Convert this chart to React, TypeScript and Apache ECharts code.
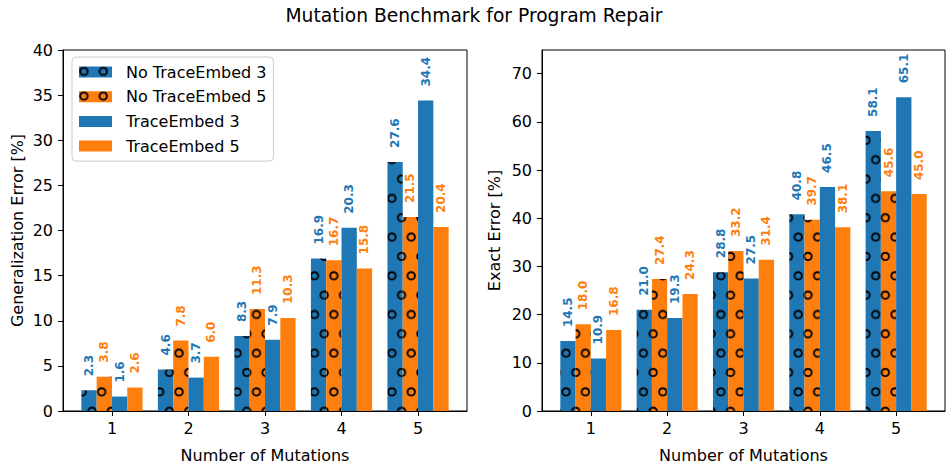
import React, { useEffect, useRef } from 'react';
import * as echarts from 'echarts';

const categories = [1, 2, 3, 4, 5];
const seriesNames = ['No TraceEmbed 3', 'No TraceEmbed 5', 'TraceEmbed 3', 'TraceEmbed 5'];

const genNoTE3 = [2.3, 4.6, 8.3, 16.9, 27.6];
const genNoTE5 = [3.8, 7.8, 11.3, 16.7, 21.5];
const genTE3 = [1.6, 3.7, 7.9, 20.3, 34.4];
const genTE5 = [2.6, 6.0, 10.3, 15.8, 20.4];

const exactNoTE3 = [14.5, 21.0, 28.8, 40.8, 58.1];
const exactNoTE5 = [18.0, 27.4, 33.2, 39.7, 45.6];
const exactTE3 = [10.9, 19.3, 27.5, 46.5, 65.1];
const exactTE5 = [16.8, 24.3, 31.4, 38.1, 45.0];

const xTicks = [1, 2, 3, 4, 5];
const exactYTicks = [0, 10, 20, 30, 40, 50, 60, 70];

const BLUE = '#1f77b4';
const ORANGE = '#ff7f0e';
const FONT = 'DejaVu Sans';

const TW = 19.35;
const TH = 38.7;
function hatch(bg: string) {
  const svg =
    `<svg xmlns="http://www.w3.org/2000/svg" width="${TW}" height="${TH}" viewBox="0 0 ${TW} ${TH}">` +
    `<rect x="0" y="0" width="${TW}" height="${TH}" fill="${bg}"/>` +
    `<circle cx="4.9" cy="4.9" r="3.7" fill="none" stroke="#000" stroke-width="1.9"/>` +
    `<circle cx="14.575" cy="24.25" r="3.7" fill="none" stroke="#000" stroke-width="1.9"/>` +
    `</svg>`;
  return {
    image: 'data:image/svg+xml;charset=utf-8,' + encodeURIComponent(svg),
    repeat: 'repeat',
    imageWidth: TW,
    imageHeight: TH,
    x: -1.3,
    y: 33 - TH,
  };
}

const offsets = [-0.3, -0.1, 0.1, 0.3];

export default function App() {
  const ref = useRef<HTMLDivElement>(null);
  useEffect(() => {
    document.body.style.margin = '0';
    if (!ref.current) return;
    const chart = echarts.init(ref.current, undefined, { renderer: 'svg' });

    const colors = [hatch(BLUE), hatch(ORANGE), BLUE, ORANGE];
    const labelColors = [BLUE, ORANGE, BLUE, ORANGE];
    const genData = [genNoTE3, genNoTE5, genTE3, genTE5];
    const exactData = [exactNoTE3, exactNoTE5, exactTE3, exactTE5];

    const mkSeries = (vals: number[], i: number, gi: number) => ({
      type: 'bar',
      name: seriesNames[i],
      xAxisIndex: gi,
      yAxisIndex: gi,
      barWidth: 15.3,
      barGap: '-100%',
      itemStyle: { color: colors[i] as any },
      data: categories.map((c, k) => [c + offsets[i], vals[k]]),
      label: {
        show: true,
        position: 'top',
        rotate: 90,
        align: 'left',
        verticalAlign: 'middle',
        distance: 14,
        color: labelColors[i],
        fontWeight: 'bold',
        fontSize: 12,
        fontFamily: FONT,
        formatter: (p: any) => Number(p.value[1]).toFixed(1),
      },
    });

    const axisLineStyle = { color: '#000', width: 1 };
    const mkX = (gi: number) => ({
      type: 'value',
      gridIndex: gi,
      min: 0.36,
      max: 5.64,
      name: 'Number of Mutations',
      nameLocation: 'middle',
      nameGap: 36,
      nameTextStyle: { fontSize: 16, color: '#000', fontFamily: FONT },
      axisLine: { show: true, onZero: false, lineStyle: axisLineStyle },
      axisTick: { show: true, length: 5, customValues: xTicks, lineStyle: axisLineStyle },
      axisLabel: { customValues: xTicks, fontSize: 16, color: '#000', fontFamily: FONT, margin: 9 },
      splitLine: { show: false },
    });

    const option: any = {
      animation: false,
      backgroundColor: '#fff',
      title: {
        text: 'Mutation Benchmark for Program Repair',
        left: 'center',
        top: 1,
        textStyle: { fontSize: 18.7, fontWeight: 'normal', color: '#000', fontFamily: FONT },
      },
      legend: {
        data: seriesNames,
        orient: 'vertical',
        left: 72,
        top: 57,
        padding: 7,
        itemGap: 8.7,
        itemWidth: 33,
        itemHeight: 11,
        icon: 'rect',
        backgroundColor: 'rgba(255,255,255,0.8)',
        borderColor: '#cccccc',
        borderWidth: 1,
        borderRadius: 4,
        textStyle: { fontSize: 16, color: '#000', fontFamily: FONT, padding: [0, 0, 0, 9] },
      },
      grid: [
        { left: 63, top: 50, width: 404, height: 367, show: true, borderColor: '#000', borderWidth: 1, backgroundColor: 'transparent' },
        { left: 542, top: 50, width: 403, height: 367, show: true, borderColor: '#000', borderWidth: 1, backgroundColor: 'transparent' },
      ],
      xAxis: [mkX(0), mkX(1)],
      yAxis: [
        {
          type: 'value',
          gridIndex: 0,
          min: 0,
          max: 40,
          interval: 5,
          name: 'Generalization Error [%]',
          nameLocation: 'middle',
          nameGap: 38,
          nameTextStyle: { fontSize: 16, color: '#000', fontFamily: FONT },
          axisLine: { show: true, onZero: false, lineStyle: axisLineStyle },
          axisTick: { show: true, length: 5, lineStyle: axisLineStyle },
          axisLabel: { fontSize: 16, color: '#000', fontFamily: FONT, margin: 10 },
          splitLine: { show: false },
        },
        {
          type: 'value',
          gridIndex: 1,
          min: 0,
          max: 74.9,
          interval: 10,
          name: 'Exact Error [%]',
          nameLocation: 'middle',
          nameGap: 40,
          nameTextStyle: { fontSize: 16, color: '#000', fontFamily: FONT },
          axisLine: { show: true, onZero: false, lineStyle: axisLineStyle },
          axisTick: { show: true, length: 5, customValues: exactYTicks, lineStyle: axisLineStyle },
          axisLabel: { customValues: exactYTicks, fontSize: 16, color: '#000', fontFamily: FONT, margin: 10 },
          splitLine: { show: false },
        },
      ],
      series: [
        ...genData.map((v, i) => mkSeries(v, i, 0)),
        ...exactData.map((v, i) => mkSeries(v, i, 1)),
      ],
    };
    chart.setOption(option);
    return () => chart.dispose();
  }, []);
  return <div ref={ref} style={{ width: 948, height: 468 }} />;
}
